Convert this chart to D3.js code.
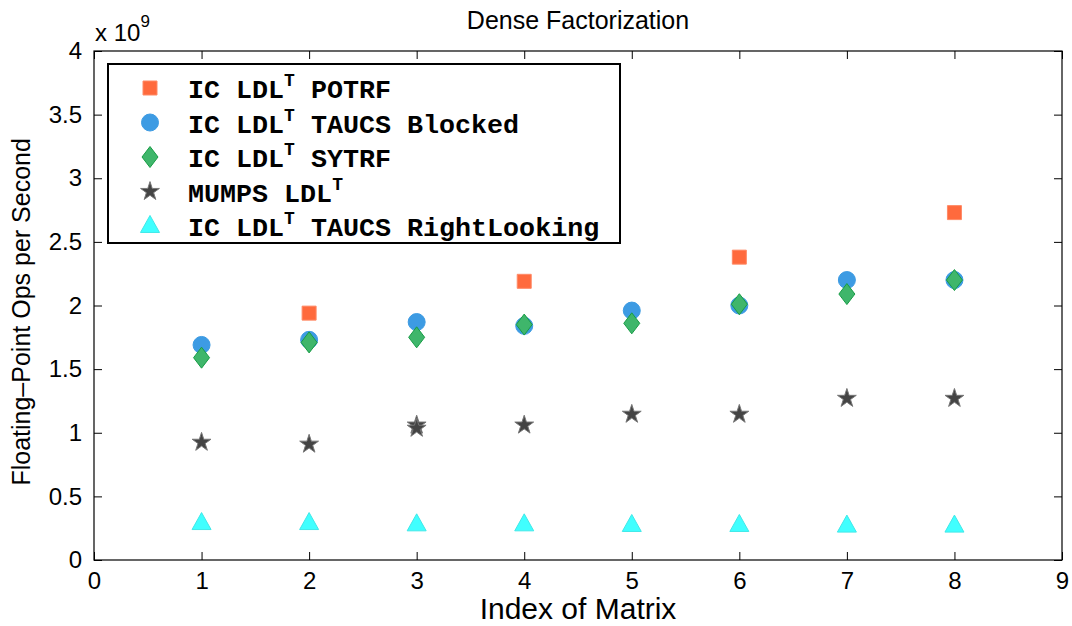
<!DOCTYPE html>
<html>
<head>
<meta charset="utf-8">
<script src="https://cdn.jsdelivr.net/npm/d3@7"></script>
<style>
  html, body { margin: 0; padding: 0; background: #fff; }
  svg { display: block; }
  text { font-family: "Liberation Sans", Arial, Helvetica, sans-serif; fill: #000; }
  .legend text { font-family: "Liberation Mono", "Courier New", monospace; font-weight: bold; }
</style>
</head>
<body>
<svg id="chart" width="1072" height="626"></svg>
<script>
// ---- Data (values in units of 1e9 flops/s) ----
const matrixIndex = [1, 2, 3, 4, 5, 6, 7, 8];
const potrfIndex = [2, 4, 6, 8];
const potrfValues = [1.94, 2.19, 2.38, 2.73];
const taucsBlockedValues = [1.69, 1.73, 1.87, 1.84, 1.96, 2.00, 2.20, 2.20];
const sytrfValues = [1.59, 1.71, 1.75, 1.85, 1.86, 2.01, 2.09, 2.20];
const mumpsIndex = [1, 2, 3, 3, 4, 5, 6, 7, 8];
const mumpsValues = [0.925, 0.91, 1.06, 1.035, 1.06, 1.145, 1.145, 1.27, 1.27];
const rightLookingValues = [0.29, 0.29, 0.28, 0.28, 0.275, 0.275, 0.27, 0.27];
const xTicks = [0, 1, 2, 3, 4, 5, 6, 7, 8, 9];
const yTicks = [0, 0.5, 1, 1.5, 2, 2.5, 3, 3.5, 4];
const seriesNames = ["POTRF", "TAUCS Blocked", "SYTRF", "MUMPS", "TAUCS RightLooking"];

const svg = d3.select("#chart");
const margin = {left: 94, top: 51, right: 10, bottom: 66};
const W = 1072, H = 626;
const plotW = W - margin.left - margin.right;
const plotH = H - margin.top - margin.bottom;

const x = d3.scaleLinear().domain([0, 9]).range([margin.left, margin.left + plotW]);
const y = d3.scaleLinear().domain([0, 4]).range([margin.top + plotH, margin.top]);

const g = svg.append("g");
const tickLen = 8;
const fmt = d => d3.format("")(d);

// axes (MATLAB-style inward ticks, box)
const axB = d3.axisBottom(x).tickValues(xTicks).tickFormat(fmt).tickSizeInner(-tickLen).tickSizeOuter(0).tickPadding(12);
const axT = d3.axisTop(x).tickValues(xTicks).tickFormat("").tickSizeInner(-tickLen).tickSizeOuter(0);
const axL = d3.axisLeft(y).tickValues(yTicks).tickFormat(fmt).tickSizeInner(-tickLen).tickSizeOuter(0).tickPadding(12);
const axR = d3.axisRight(y).tickValues(yTicks).tickFormat("").tickSizeInner(-tickLen).tickSizeOuter(0);

function style(sel) {
  sel.selectAll("path").remove();
  sel.selectAll("line").attr("stroke", "#000").attr("stroke-width", 1);
  sel.selectAll("text").attr("font-size", 24).attr("font-family", "Liberation Sans, Arial, sans-serif").attr("fill", "#000");
}
g.append("g").attr("transform", `translate(0,${y(0)})`).call(axB).call(style);
g.append("g").attr("transform", `translate(0,${y(4)})`).call(axT).call(style);
g.append("g").attr("transform", `translate(${x(0)},0)`).call(axL).call(style);
g.append("g").attr("transform", `translate(${x(9)},0)`).call(axR).call(style);

g.append("rect").attr("x", x(0)).attr("y", y(4)).attr("width", x(9) - x(0)).attr("height", y(0) - y(4))
  .attr("fill", "none").attr("stroke", "#000").attr("stroke-width", 1.2);

// titles
svg.append("text").attr("x", x(4.5)).attr("y", 29).attr("text-anchor", "middle").attr("font-size", 25).text("Dense Factorization");
svg.append("text").attr("x", x(4.5)).attr("y", 619).attr("text-anchor", "middle").attr("font-size", 30).text("Index of Matrix");
svg.append("text").attr("transform", `translate(30,${y(1.95)}) rotate(-90)`).attr("text-anchor", "middle").attr("font-size", 25).text("Floating\u2013Point Ops per Second");
const expo = svg.append("text").attr("x", 95).attr("y", 41).attr("font-size", 24);
expo.append("tspan").text("x 10");
expo.append("tspan").attr("font-size", 17).attr("dy", -14).text("9");

// markers
const styles = {
  square: {fill: "#ff6a3d", stroke: "#ff8a66"},
  circle: {fill: "#3d9be3", stroke: "#3d9be3"},
  diamond: {fill: "#3fb66b", stroke: "#179c45"},
  star: {fill: "#444444", stroke: "#777777"},
  triangle: {fill: "#40ffff", stroke: "#40e8e8"}
};
function squarePath(s) { const h = s / 2; return `M${-h},${-h}H${h}V${h}H${-h}Z`; }
function diamondPath(w, h) { return `M0,${-h/2}L${w/2},0L0,${h/2}L${-w/2},0Z`; }
function trianglePath(w, h) { return `M0,${-h*0.62}L${w/2},${h*0.38}L${-w/2},${h*0.38}Z`; }
const circlePath = d3.symbol(d3.symbolCircle, Math.PI * 8.5 * 8.5)();
const starPath = d3.symbol(d3.symbolStar, 110)();
const shapes = {
  square: squarePath(14),
  circle: circlePath,
  diamond: diamondPath(16, 21),
  star: starPath,
  triangle: trianglePath(19, 17)
};

function draw(xs, ys, kind) {
  g.append("g").selectAll("path").data(ys).join("path")
    .attr("d", shapes[kind])
    .attr("transform", (d, i) => `translate(${x(xs[i])},${y(d)})`)
    .attr("fill", styles[kind].fill).attr("stroke", styles[kind].stroke).attr("stroke-width", 1);
}
draw(potrfIndex, potrfValues, "square");
draw(matrixIndex, taucsBlockedValues, "circle");
draw(matrixIndex, sytrfValues, "diamond");
draw(mumpsIndex, mumpsValues, "star");
draw(matrixIndex, rightLookingValues, "triangle");

// legend
const legend = svg.append("g").attr("class", "legend");
legend.append("rect").attr("x", 108).attr("y", 64).attr("width", 512).attr("height", 179)
  .attr("fill", "#fff").attr("stroke", "#000").attr("stroke-width", 2);
const legendItems = [
  {kind: "square", parts: ["IC LDL", "T", " POTRF"]},
  {kind: "circle", parts: ["IC LDL", "T", " TAUCS Blocked"]},
  {kind: "diamond", parts: ["IC LDL", "T", " SYTRF"]},
  {kind: "star", parts: ["MUMPS LDL", "T", ""]},
  {kind: "triangle", parts: ["IC LDL", "T", " TAUCS RightLooking"]}
];
legendItems.forEach((it, i) => {
  const cy = 88 + i * 34.5;
  legend.append("path").attr("d", shapes[it.kind]).attr("transform", `translate(150,${cy})`)
    .attr("fill", styles[it.kind].fill).attr("stroke", styles[it.kind].stroke);
  const t = legend.append("text").attr("x", 188).attr("y", cy + 10).attr("font-size", 26.7);
  t.append("tspan").text(it.parts[0]);
  t.append("tspan").attr("font-size", 18).attr("dy", -12).text(it.parts[1]);
  if (it.parts[2]) t.append("tspan").attr("dy", 12).text(it.parts[2]);
});
</script>
</body>
</html>
